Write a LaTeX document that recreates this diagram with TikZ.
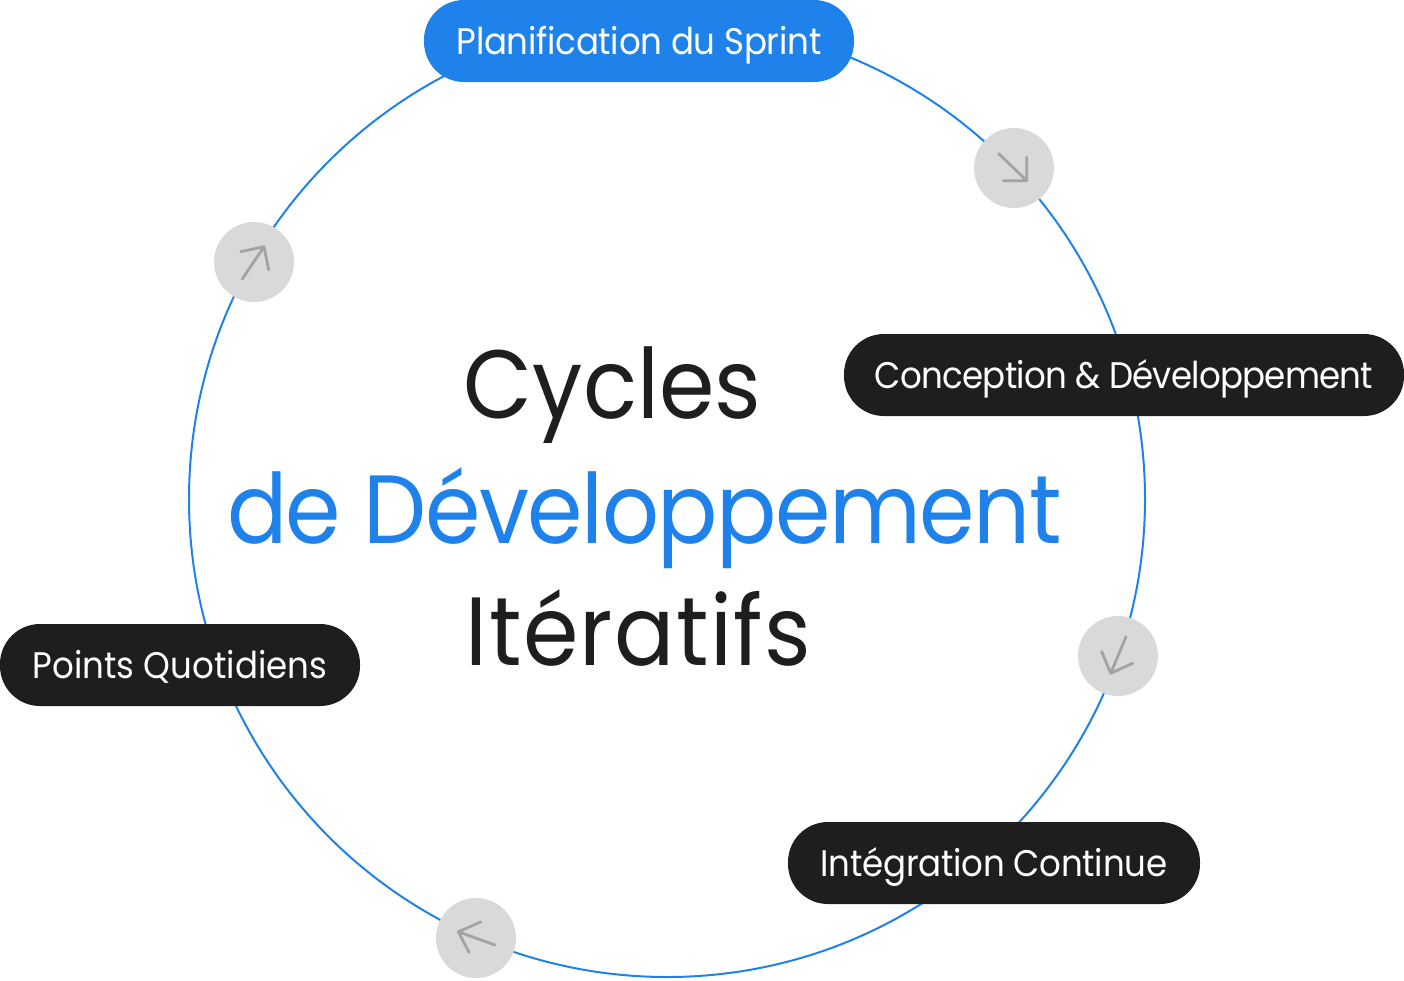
\documentclass[tikz,border=0pt]{standalone}
\usepackage{fontspec}
\setmainfont{Poppins}[FakeStretch=0.92]
\newcommand{\tracked}[1]{\addfontfeature{LetterSpace=#1}}
\definecolor{sprintblue}{HTML}{1E82EA}
\definecolor{pillblack}{HTML}{1E1E1E}
\definecolor{badgegray}{HTML}{D9D9D9}
\definecolor{glyphgray}{HTML}{A3A3A3}
\tikzset{
	ring node/.style={circle, draw=sprintblue, line width=2pt, inner sep=0, minimum size=956pt},
	pill node/.style={rounded corners=40pt, fill=pillblack, text=white, inner sep=0, minimum height=82pt, text height=26pt, text depth=0pt, font=\fontsize{37}{37}\selectfont},
	blue pill/.style={pill node, fill=sprintblue},
	badge node/.style={circle, fill=badgegray, inner sep=0, minimum size=80pt},
	title node/.style={anchor=base, inner sep=0, text=pillblack, font=\fontsize{97}{97}\selectfont},
	glyph/.style={draw=glyphgray, line width=2.8pt, line cap=round, line join=round},
}
\begin{document}
\begin{tikzpicture}[x=1pt, y=-1pt]
	\useasboundingbox (0,0) rectangle (1404,980);

	\node[ring node] (ring) at (667,499) {};

	\node[blue pill, minimum width=430pt] (planning) at (639,41) {\tracked{-0.7}Planification du Sprint};
	\node[pill node, minimum width=560pt] (design) at (1124,375) {\tracked{-2}Conception \& Développement};
	\node[pill node, minimum width=412pt] (integration) at (994,863) {\tracked{-0.7}Intégration Continue};
	\node[pill node, minimum width=360pt] (daily) at (180,665) {Points Quotidiens};

	\node[badge node] (badgeA) at (1014,168) {};
	\node[badge node] (badgeB) at (1118,656) {};
	\node[badge node] (badgeC) at (476,938) {};
	\node[badge node] (badgeD) at (254,262) {};

	\draw[glyph] (998.5,153.5) -- (1026.7,180.7) (1026.7,157.3) -- (1026.7,180.7) -- (1003.3,180.7);
	\draw[glyph] (1126,636.7) -- (1110.7,673.3) (1101.7,651.7) -- (1110.7,673.3) -- (1132.7,663.3);
	\draw[glyph] (495,945) -- (458.3,931.7) (480.7,922) -- (458.3,931.7) -- (469,952.3);
	\draw[glyph] (242.3,279) -- (264,246.7) (240.7,251.7) -- (264,246.7) -- (268.7,270);

	\node[title node] (titleA) at (612.5,418) {Cycles};
	\node[title node, text=sprintblue] (titleB) at (644.5,543) {\tracked{-1.5}de Développement};
	\node[title node] (titleC) at (638.5,665) {\tracked{1.5}Itératifs};
\end{tikzpicture}
\end{document}
